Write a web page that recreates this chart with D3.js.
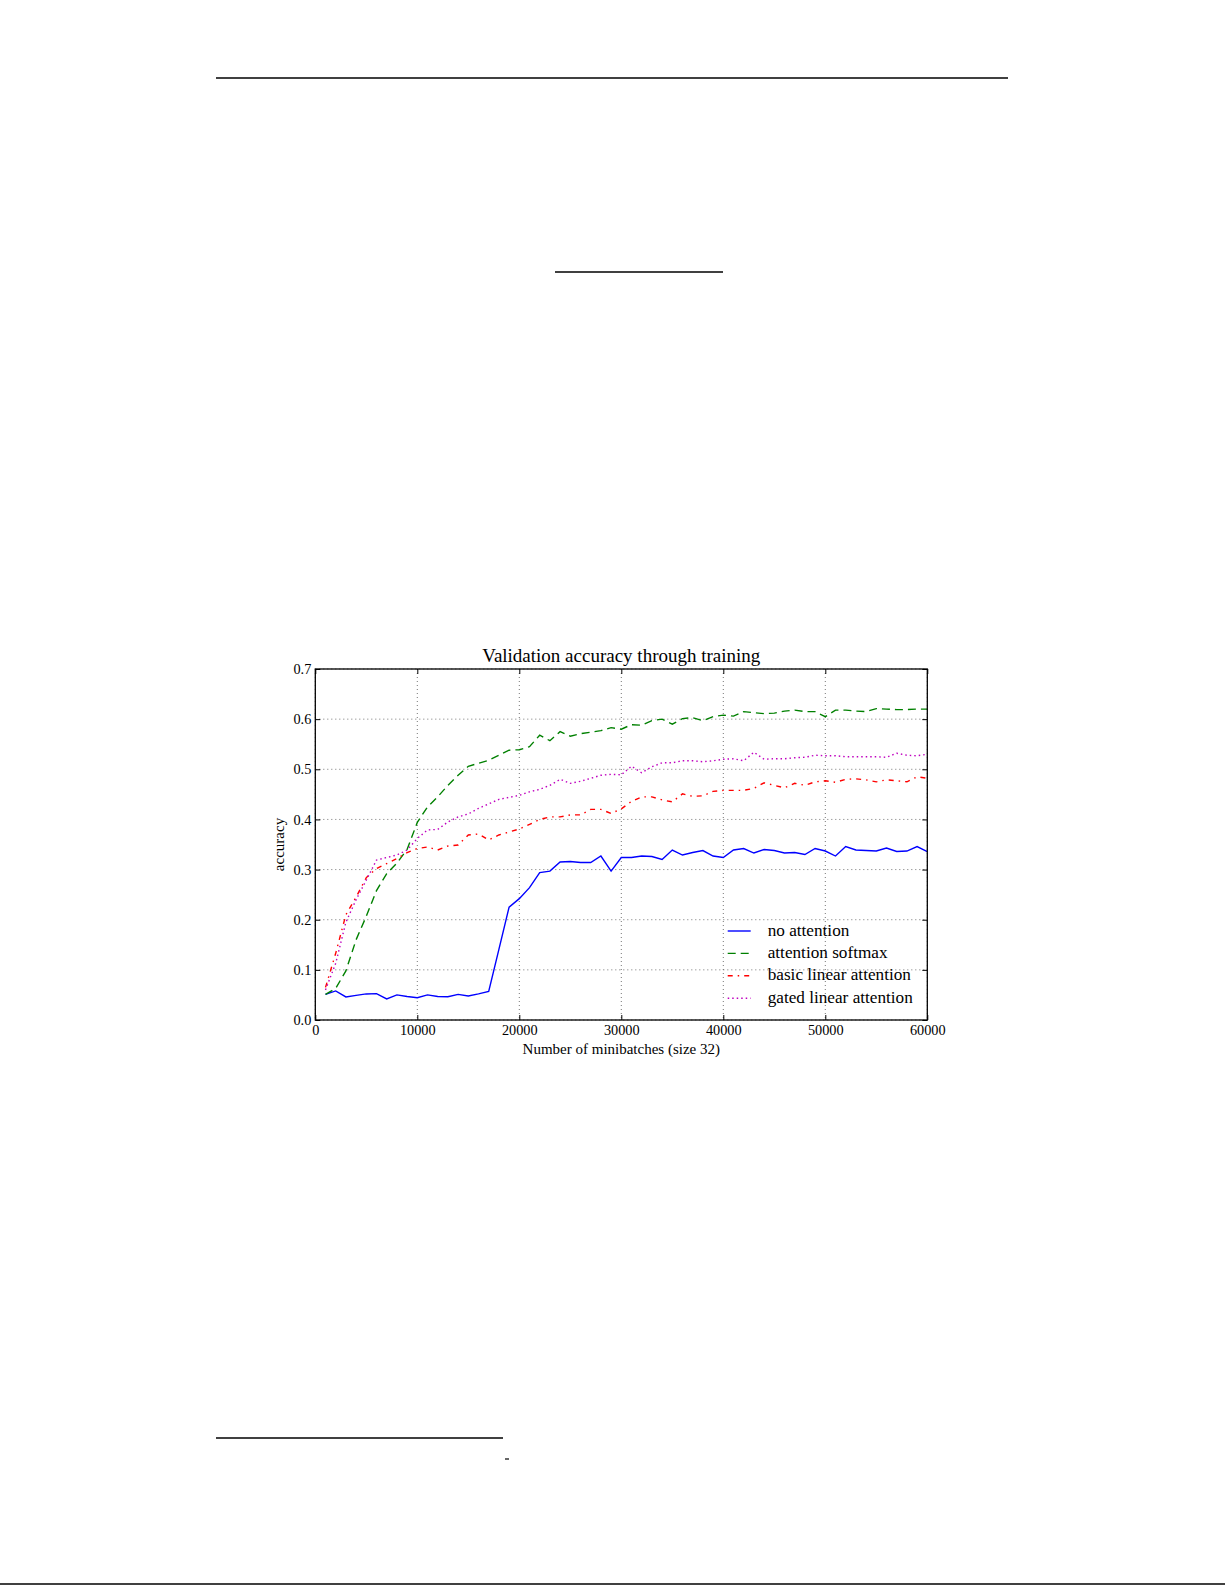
<!DOCTYPE html>
<html>
<head>
<meta charset="utf-8">
<script src="https://cdn.jsdelivr.net/npm/d3@7"></script>
<style>
  body { margin: 0; background: #fff; }
  svg text { font-family: 'Liberation Serif', 'Times New Roman', serif; fill: #000; }
</style>
</head>
<body>
<div id="page"></div>
<script>
// x positions (number of minibatches)
const minibatches = [
  1000, 2000, 3000, 4000, 5000, 6000, 7000, 8000, 9000, 10000,
  11000, 12000, 13000, 14000, 15000, 16000, 17000, 18000, 19000, 20000,
  21000, 22000, 23000, 24000, 25000, 26000, 27000, 28000, 29000, 30000,
  31000, 32000, 33000, 34000, 35000, 36000, 37000, 38000, 39000, 40000,
  41000, 42000, 43000, 44000, 45000, 46000, 47000, 48000, 49000, 50000,
  51000, 52000, 53000, 54000, 55000, 56000, 57000, 58000, 59000, 60000,
];

const noAttention = [
  0.051, 0.058, 0.046, 0.049, 0.052, 0.0525, 0.042, 0.050, 0.047, 0.0445,
  0.050, 0.047, 0.0465, 0.051, 0.048, 0.052, 0.057, 0.141, 0.225, 0.242,
  0.264, 0.294, 0.297, 0.315, 0.316, 0.314, 0.314, 0.327, 0.297, 0.324,
  0.324, 0.327, 0.326, 0.320, 0.339, 0.329, 0.334, 0.338, 0.327, 0.324,
  0.339, 0.342, 0.333, 0.340, 0.338, 0.333, 0.334, 0.330, 0.342, 0.337,
  0.327, 0.346, 0.339, 0.338, 0.337, 0.343, 0.336, 0.337, 0.346, 0.336,
];

const attentionSoftmax = [
  0.051, 0.063, 0.098, 0.160, 0.207, 0.258, 0.292, 0.313, 0.340, 0.394,
  0.425, 0.445, 0.468, 0.488, 0.506, 0.512, 0.518, 0.528, 0.538, 0.539,
  0.545, 0.568, 0.557, 0.575, 0.566, 0.571, 0.574, 0.577, 0.583, 0.580,
  0.589, 0.588, 0.597, 0.600, 0.590, 0.601, 0.603, 0.597, 0.605, 0.608,
  0.606, 0.615, 0.613, 0.611, 0.612, 0.616, 0.618, 0.615, 0.615, 0.605,
  0.618, 0.618, 0.616, 0.615, 0.621, 0.620, 0.619, 0.619, 0.620, 0.620,
];

const basicLinear = [
  0.065, 0.133, 0.210, 0.245, 0.284, 0.302, 0.312, 0.322, 0.334, 0.342,
  0.345, 0.339, 0.347, 0.349, 0.369, 0.371, 0.359, 0.369, 0.375, 0.381,
  0.390, 0.400, 0.405, 0.405, 0.409, 0.409, 0.420, 0.420, 0.412, 0.421,
  0.436, 0.445, 0.445, 0.439, 0.435, 0.451, 0.446, 0.447, 0.456, 0.458,
  0.458, 0.458, 0.462, 0.473, 0.468, 0.463, 0.472, 0.468, 0.475, 0.477,
  0.474, 0.480, 0.481, 0.479, 0.475, 0.479, 0.477, 0.475, 0.485, 0.482,
];

const gatedLinear = [
  0.060, 0.113, 0.195, 0.240, 0.279, 0.319, 0.324, 0.329, 0.339, 0.362,
  0.379, 0.380, 0.395, 0.405, 0.411, 0.422, 0.431, 0.440, 0.444, 0.448,
  0.455, 0.460, 0.468, 0.480, 0.472, 0.476, 0.482, 0.488, 0.490, 0.489,
  0.506, 0.493, 0.505, 0.513, 0.513, 0.517, 0.517, 0.515, 0.517, 0.520,
  0.521, 0.517, 0.534, 0.520, 0.521, 0.521, 0.523, 0.524, 0.528, 0.527,
  0.527, 0.525, 0.525, 0.525, 0.525, 0.524, 0.532, 0.528, 0.527, 0.530,
];

const seriesNames = ['no attention', 'attention softmax', 'basic linear attention', 'gated linear attention'];
const seriesValues = [noAttention, attentionSoftmax, basicLinear, gatedLinear];
const seriesColors = ['#0000ff', '#008000', '#ff0000', '#bf00bf'];
const seriesDashes = [null, '8,5', '5,5,1.5,5', '1.5,3'];

const xTicks = [0, 10000, 20000, 30000, 40000, 50000, 60000];
const yTicks = [0.0, 0.1, 0.2, 0.3, 0.4, 0.5, 0.6, 0.7];

const pageWidth = 1225;
const pageHeight = 1585;

const svg = d3.select('#page')
  .append('svg')
  .attr('width', pageWidth)
  .attr('height', pageHeight);

// page rules around the figure
const rules = [
  [216, 1008, 78, 1.3],
  [555, 723, 272, 1.3],
  [216, 503, 1438, 1.3],
  [505, 509, 1459, 1.2],
  [0, pageWidth, 1584, 1.5],
];
svg.selectAll('line.rule')
  .data(rules)
  .join('line')
  .attr('class', 'rule')
  .attr('x1', (d) => d[0])
  .attr('x2', (d) => d[1])
  .attr('y1', (d) => d[2])
  .attr('y2', (d) => d[2])
  .attr('stroke', '#000')
  .attr('stroke-width', (d) => d[3]);

// plot area
const margin = { top: 669, left: 315.3 };
const contentWidth = 612;
const contentHeight = 351;

const g = svg.append('g')
  .attr('transform', `translate(${margin.left},${margin.top})`);

const x = d3.scaleLinear()
  .domain([0, 60000])
  .range([0, contentWidth]);

const y = d3.scaleLinear()
  .domain([0, 0.7])
  .range([contentHeight, 0]);

// dotted grid
g.append('g')
  .selectAll('line')
  .data(xTicks)
  .join('line')
  .attr('x1', (d) => x(d))
  .attr('x2', (d) => x(d))
  .attr('y1', 0)
  .attr('y2', contentHeight)
  .attr('stroke', '#666')
  .attr('stroke-width', 0.9)
  .attr('stroke-dasharray', '1,3');

g.append('g')
  .selectAll('line')
  .data(yTicks)
  .join('line')
  .attr('x1', 0)
  .attr('x2', contentWidth)
  .attr('y1', (d) => y(d))
  .attr('y2', (d) => y(d))
  .attr('stroke', '#666')
  .attr('stroke-width', 0.9)
  .attr('stroke-dasharray', '1,3');

// series lines
const line = d3.line()
  .x((d) => x(d[0]))
  .y((d) => y(d[1]));

seriesValues.forEach((values, i) => {
  g.append('path')
    .datum(minibatches.map((m, j) => [m, values[j]]))
    .attr('fill', 'none')
    .attr('stroke', seriesColors[i])
    .attr('stroke-width', 1.4)
    .attr('stroke-dasharray', seriesDashes[i])
    .attr('d', line);
});

// axes, ticks pointing inwards on all four sides
const bottomAxis = g.append('g')
  .attr('transform', `translate(0,${contentHeight})`)
  .call(d3.axisBottom(x).tickValues(xTicks).tickFormat(d3.format('d'))
    .tickSizeInner(-5).tickSizeOuter(0).tickPadding(5));

const leftAxis = g.append('g')
  .call(d3.axisLeft(y).tickValues(yTicks).tickFormat(d3.format('.1f'))
    .tickSizeInner(-5).tickSizeOuter(0).tickPadding(4));

g.append('g')
  .call(d3.axisTop(x).tickValues(xTicks).tickFormat('')
    .tickSizeInner(-5).tickSizeOuter(0));

g.append('g')
  .attr('transform', `translate(${contentWidth},0)`)
  .call(d3.axisRight(y).tickValues(yTicks).tickFormat('')
    .tickSizeInner(-5).tickSizeOuter(0));

g.selectAll('.domain').remove();
g.selectAll('.tick line').attr('stroke', '#000').attr('stroke-width', 1);
[bottomAxis, leftAxis].forEach((a) => a.selectAll('text')
  .style('font-family', "'Liberation Serif', serif")
  .style('font-size', '14.3px'));

// frame
g.append('rect')
  .attr('width', contentWidth)
  .attr('height', contentHeight)
  .attr('fill', 'none')
  .attr('stroke', '#000')
  .attr('stroke-width', 1.3);

// title and axis labels
g.append('text')
  .attr('x', contentWidth / 2)
  .attr('y', -7)
  .attr('text-anchor', 'middle')
  .style('font-size', '19px')
  .text('Validation accuracy through training');

g.append('text')
  .attr('x', contentWidth / 2)
  .attr('y', contentHeight + 34)
  .attr('text-anchor', 'middle')
  .style('font-size', '15px')
  .text('Number of minibatches (size 32)');

g.append('text')
  .attr('transform', `translate(${284 - margin.left},${contentHeight / 2}) rotate(-90)`)
  .attr('text-anchor', 'middle')
  .style('font-size', '15px')
  .text('accuracy');

// legend, no frame
const legend = g.append('g')
  .attr('transform', `translate(${727.7 - margin.left},${931 - margin.top})`);

const rows = legend.selectAll('g')
  .data(seriesNames)
  .join('g')
  .attr('transform', (d, i) => `translate(0,${i * 22.4})`);

rows.append('line')
  .attr('x1', 0)
  .attr('x2', 23)
  .attr('stroke', (d, i) => seriesColors[i])
  .attr('stroke-width', 1.4)
  .attr('stroke-dasharray', (d, i) => seriesDashes[i]);

rows.append('text')
  .attr('x', 40)
  .attr('y', 4.5)
  .style('font-size', '17.2px')
  .text((d) => d);
</script>
</body>
</html>
